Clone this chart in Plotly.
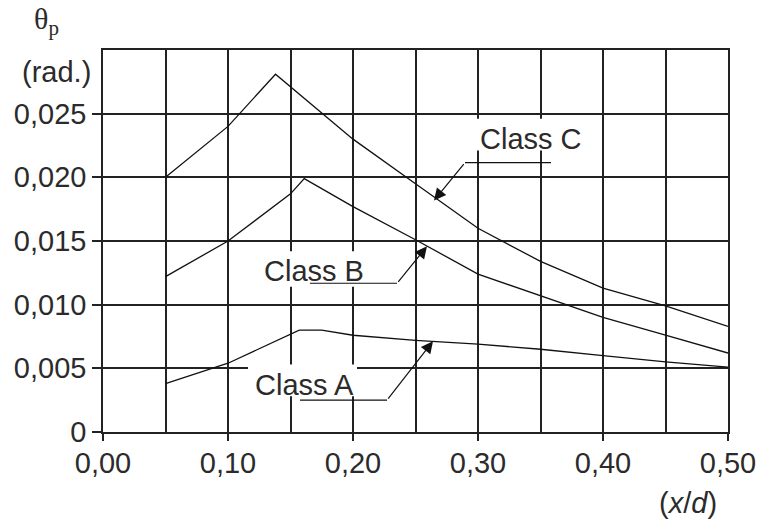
import plotly.graph_objects as go

# ---- data ----
class_c_x = [0.05, 0.10, 0.138, 0.15, 0.20, 0.25, 0.30, 0.35, 0.40, 0.45, 0.50]
class_c_y = [0.0200, 0.0240, 0.0281, 0.0271, 0.0230, 0.0195, 0.0160, 0.0134, 0.0113, 0.0099, 0.0083]

class_b_x = [0.05, 0.10, 0.15, 0.161, 0.20, 0.25, 0.30, 0.35, 0.40, 0.45, 0.50]
class_b_y = [0.0122, 0.0150, 0.0187, 0.0199, 0.0177, 0.0151, 0.0124, 0.0107, 0.0090, 0.0076, 0.0062]

class_a_x = [0.05, 0.10, 0.157, 0.175, 0.20, 0.25, 0.30, 0.35, 0.40, 0.45, 0.50]
class_a_y = [0.0038, 0.0054, 0.0080, 0.0080, 0.0076, 0.0072, 0.0069, 0.0065, 0.0060, 0.0055, 0.0051]

x_tick_vals = [0.0, 0.1, 0.2, 0.3, 0.4, 0.5]
x_tick_text = ["0,00", "0,10", "0,20", "0,30", "0,40", "0,50"]
y_tick_vals = [0.0, 0.005, 0.010, 0.015, 0.020, 0.025]
y_tick_text = ["0", "0,005", "0,010", "0,015", "0,020", "0,025"]

SANS = "Liberation Sans, Arial, sans-serif"
SERIF = "Liberation Serif, Times New Roman, serif"
INK = "#222222"
TXT = "#2b2b2b"
FS = 29

fig = go.Figure()

for xs, ys in [(class_c_x, class_c_y), (class_b_x, class_b_y), (class_a_x, class_a_y)]:
    fig.add_trace(go.Scatter(x=xs, y=ys, mode="lines",
                             line=dict(color="#111111", width=1.3),
                             showlegend=False, hoverinfo="skip"))

# white backgrounds behind labels (hide gridlines)
boxes = [
    (0.2936, 0.3896, 0.0221, 0.0246),
    (0.124, 0.212, 0.0114, 0.0142),
    (0.116, 0.2032, 0.0028, 0.0053),
]
for x0, x1, y0, y1 in boxes:
    fig.add_shape(type="rect", xref="x", yref="y", x0=x0, x1=x1, y0=y0, y1=y1,
                  fillcolor="white", line=dict(width=0), layer="between")

# leader lines: horizontal part + arrow
leaders = [
    # (h_start_x, bend_x, bend_y, tip_x, tip_y)
    (0.3584, 0.2896, 0.02116, 0.2648, 0.01818),
    (0.1656, 0.2352, 0.01168, 0.2592, 0.01458),
    (0.1576, 0.2272, 0.00251, 0.2640, 0.00713),
]
for hx, bx, by, tx, ty in leaders:
    fig.add_trace(go.Scatter(x=[hx, bx], y=[by, by], mode="lines",
                             line=dict(color="#111111", width=1.2),
                             showlegend=False, hoverinfo="skip"))
    fig.add_annotation(x=tx, y=ty, ax=bx, ay=by, xref="x", yref="y",
                       axref="x", ayref="y", text="", showarrow=True,
                       arrowhead=2, arrowsize=2.0, arrowwidth=1.2,
                       arrowcolor="#111111", standoff=0)

labels = [("Class C", 0.342, 0.0230), ("Class B", 0.1684, 0.01266), ("Class A", 0.1612, 0.00372)]
for t, x, y in labels:
    fig.add_annotation(x=x, y=y, xref="x", yref="y", text=t, showarrow=False,
                       font=dict(family=SANS, size=FS, color=TXT))

fig.add_annotation(x=-0.0912, y=1.075, xref="paper", yref="paper", text="θ<sub>p</sub>",
                   xanchor="center", yanchor="middle",
                   showarrow=False, font=dict(family=SERIF, size=30, color=TXT))
fig.add_annotation(x=-0.0752, y=0.9424, xref="paper", yref="paper", text="(rad.)",
                   xanchor="center", yanchor="middle",
                   showarrow=False, font=dict(family=SANS, size=FS, color=TXT))
fig.add_annotation(x=0.936, y=-0.1859, xref="paper", yref="paper", text="(<i>x</i>/<i>d</i>)",
                   xanchor="center", yanchor="middle",
                   showarrow=False, font=dict(family=SANS, size=FS, color=TXT))

fig.update_layout(
    width=761, height=525,
    margin=dict(l=103, r=33, t=50, b=93, autoexpand=False),
    paper_bgcolor="white", plot_bgcolor="white",
    xaxis=dict(range=[0, 0.5], tickvals=x_tick_vals, ticktext=x_tick_text,
               ticks="outside", ticklen=7, tickwidth=1.6, tickcolor=INK,
               ticklabelstandoff=-3,
               showgrid=True, gridcolor=INK, gridwidth=1.6,
               minor=dict(dtick=0.05, tick0=0, showgrid=True, gridcolor=INK, gridwidth=1.6),
               showline=True, linecolor=INK, linewidth=1.6, mirror=True, automargin=False,
               zeroline=False, tickfont=dict(family=SANS, size=FS, color=TXT)),
    yaxis=dict(range=[0, 0.030], tickvals=y_tick_vals, ticktext=y_tick_text,
               ticks="outside", ticklen=9, tickwidth=1.6, tickcolor=INK,
               showgrid=True, gridcolor=INK, gridwidth=1.6,
               showline=True, linecolor=INK, linewidth=1.6, mirror=True, automargin=False,
               zeroline=False, tickfont=dict(family=SANS, size=FS, color=TXT)),
)

fig.write_html("out.html")
